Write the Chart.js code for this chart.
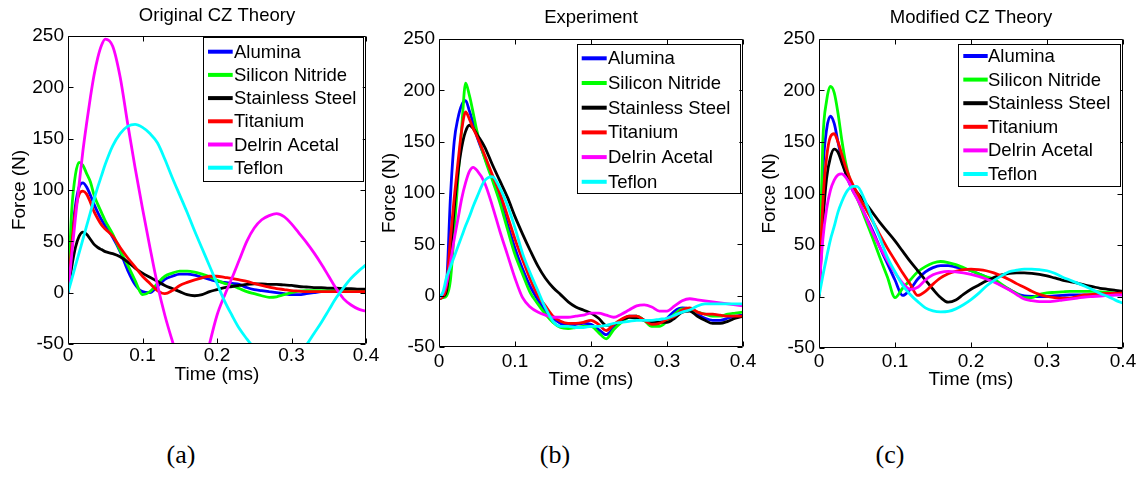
<!DOCTYPE html>
<html><head><meta charset="utf-8">
<script src="https://cdn.jsdelivr.net/npm/chart.js@4.4.1/dist/chart.umd.min.js"></script>
<style>
html,body{margin:0;padding:0;background:#fff;}
body{width:1140px;height:500px;position:relative;overflow:hidden;}
canvas{position:absolute;top:0;}
.cap{position:absolute;top:441px;font-family:'Liberation Serif','Times New Roman',serif;font-size:26px;line-height:28px;color:#000;transform:translateX(-50%);}
</style></head><body>
<canvas id="ca" width="400" height="400" style="left:0px;width:400px;height:400px"></canvas>
<canvas id="cb" width="400" height="400" style="left:370px;width:400px;height:400px"></canvas>
<canvas id="cc" width="390" height="400" style="left:750px;width:390px;height:400px"></canvas>
<div class="cap" style="left:181px">(a)</div>
<div class="cap" style="left:555px">(b)</div>
<div class="cap" style="left:890px">(c)</div>
<script>
// ---- data ----
const timeMs = [0,0.005,0.01,0.015,0.02,0.025,0.03,0.035,0.04,0.045,0.05,0.06,0.07,0.08,0.09,0.10,0.11,0.12,0.13,0.14,0.15,0.16,0.17,0.18,0.19,0.20,0.21,0.22,0.23,0.24,0.25,0.26,0.27,0.28,0.29,0.30,0.31,0.32,0.33,0.34,0.35,0.36,0.37,0.38,0.39,0.40];
const materials = ['Alumina','Silicon Nitride','Stainless Steel','Titanium','Delrin Acetal','Teflon'];
const panelTitles = ['Original CZ Theory','Experiment','Modified CZ Theory'];
const xTicks = [0,0.1,0.2,0.3,0.4];
const yTicks = [-50,0,50,100,150,200,250];

// (a) Original CZ theory
const origAlumina = [0,50,85,103,107,103,95,86,78,71,65, 54,40,22,8,1,0,6,13,16,18, 18,17,15,13,11,10,9,8,5,3, 2,1,0,-1,-2,-2,-1,0,1,1, 2,2,2,2,2];
const origSiliconNitride = [0,80,115,127,124,116,108,95,86,78,70, 57,41,27,12,-2,1,9,16,19,21, 21,20,18,15.5,12,9,7,4,1,-1, -3,-4.5,-4,-2,0,1.5,2,2,2,2, 2,2,2,2,2];
const origStainlessSteel = [0,25,44,55,59,57,52,47,44,42,40, 38,35,30,24,19,15,11,7,4,1, -2,-3,-2,1,3,5,6,7,8,8.5, 8.5,8,8,7.5,7,6,5.5,5,5,4.5, 4.5,4,4,3.5,3.5];
const origTitanium = [0,45,80,96,99,96,88,79,72,66,62, 55,44,34,25,16,9,2,-1,2,7, 10,12.5,14.5,16,16,15,14,12.5,11,9, 7,5.5,4,3,2,1.5,1,1,1,1, 1,1,1,1,1];
const origDelrinAcetal = [0,37,73,106,138,165,190,212,229,241,247, 240,210,165,122,82,44,8,-22,-47,-70, -87,-95,-82,-50,-22,-3,14,32,50,63, 71,75,77,74,67,58,49,39,28,16, 4,-6,-12,-16,-18];
const origTeflon = [0,13,26,39,52,65,78,91,103,114,125, 143,155,162,164,161,155,146,130,112,95, 78,60,43,26,9,-8,-22,-35,-45,-54, -62,-68,-71,-70,-66,-59,-51,-40,-29,-17, -5,5,14,21,27];

// (b) Experiment
const expAlumina = [-3,-1,12,95,150,173,186,190,180,168,155, 135,115,94,70,46,26,9,-4,-15,-22, -27,-29,-28,-27,-28,-33,-38,-31,-24,-20, -20,-24,-27,-26,-22,-15,-12,-13,-18,-22, -24,-24,-22,-20,-19];
const expSiliconNitride = [-3,-2,0,15,62,115,165,207,195,178,160, 134,113,91,65,40,21,3,-8,-18,-26, -31,-32,-31,-30,-30,-36,-42,-33,-26,-21, -20,-24,-30,-30,-25,-18,-13,-13,-16,-18, -20,-20,-18,-17,-16];
const expStainlessSteel = [-3,-1,5,40,85,120,145,160,166,163,157, 145,128,112,96,77,60,44,29,17,8, 1,-6,-11,-14,-17,-22,-29,-28,-24,-21, -22,-24,-26,-26,-26,-22,-16,-15,-20,-24, -27,-27,-25,-22,-20];
const expTitanium = [-3,-1,10,55,95,130,162,179,172,163,155, 137,118,100,78,55,35,16,0,-10,-20, -25,-27,-27,-26,-24,-28,-34,-28,-23,-20, -20,-24,-28,-27,-23,-20,-14,-12,-16,-18, -18,-19,-20,-20,-20];
const expDelrinAcetal = [-2,2,12,32,55,75,95,110,121,125,122, 110,88,63,40,17,-2,-11,-16,-19,-21, -21,-21,-20,-19,-17,-17,-19,-21,-18,-14, -10,-9,-11,-15,-15,-10,-5,-3,-4,-5, -6,-7,-8,-9,-10];
const expTeflon = [-2,3,18,28,38,48,58,68,77,87,96, 112,116,105,88,66,41,22,5,-12,-25, -30,-30,-31,-31,-30,-30,-29,-27,-26,-25, -24,-24,-24,-23,-22,-19,-16,-14,-10,-8, -8,-8,-8,-8,-8];

// (c) Modified CZ theory
const modAlumina = [0,120,162,175,168,150,133,120,110,102,96, 80,65,48,32,16,1,7,17,24,28, 30,30,28.5,27,25,22,19,15,11,7, 3,0.5,0,0,0,0.5,1,1.5,1.5,1.5, 1.5,1.5,1.5,1.5,1.5];
const modSiliconNitride = [0,150,190,204,198,178,152,130,115,104,96, 77,58,38,19,-1,8,16,24,29,32.5, 34,33,31,28,25,22,19,17,12,7, 3,-1,-1,2,3.5,4,4.5,5,5,5, 5,4.5,4,3.5,3];
const modStainlessSteel = [0,70,115,135,143,140,130,120,112,106,101, 92,82,72,63,54,44,34,25,16,7, -1,-5.5,-3.5,2,7,11,15,18.5,21,22.5, 23,23,22.5,21.5,20,18,16,14.5,13,11, 9.5,8,7,6,5];
const modTitanium = [0,90,135,155,158,150,138,126,116,108,101, 87,74,60,47,35,23,12,1,5,12, 18,22,24.5,26,26.5,26,25,23,20,16.5, 12.5,9,5,2,0,-1,-1.5,-1.5,0,1.5, 2,2.5,3,3,3.3];
const modDelrinAcetal = [5,55,85,103,113,118,119,116,110,102,95, 80,63,48,35,23,13,7,9,16,21, 23.5,24.3,24,23,21.5,19.5,17,14,10.5,6.5, 2,-2.5,-4,-5,-5,-4.5,-3.5,-2.5,-1.5,-0.5, 0,0.5,1,1.5,1.6];
const modTeflon = [0,20,38,55,68,82,92,100,105,107,107, 94,75,57,38,24,11,2,-5,-11,-14, -15,-14.5,-12,-8,-3,3,10,15.5,20,24, 25.5,26.5,26.5,26,25,22.5,19,16,13,10, 6.5,3,0,-3.5,-6.5];

const seriesColors = ['#0000ff','#00ff00','#000000','#ff0000','#ff00ff','#00ffff'];
const panelSeries = [
  [origAlumina, origSiliconNitride, origStainlessSteel, origTitanium, origDelrinAcetal, origTeflon],
  [expAlumina, expSiliconNitride, expStainlessSteel, expTitanium, expDelrinAcetal, expTeflon],
  [modAlumina, modSiliconNitride, modStainlessSteel, modTitanium, modDelrinAcetal, modTeflon]
];

// ---- drawing ----
const FONT = "'Liberation Sans', Arial, Helvetica, sans-serif";
Chart.defaults.font.family = FONT;
Chart.defaults.font.size = 19;
Chart.defaults.color = '#000';

const frameTicks = {
  id: 'frameTicks',
  afterDatasetsDraw(chart) {
    const {ctx, chartArea: a, scales: {x, y}} = chart;
    const L = Math.round(a.left) + 0.5, R = Math.round(a.right) - 0.5;
    const T = Math.round(a.top) + 0.5, B = Math.round(a.bottom) - 0.5;
    const tl = 5;
    ctx.save();
    ctx.strokeStyle = '#000'; ctx.lineWidth = 1;
    ctx.beginPath();
    ctx.rect(L, T, R - L, B - T);
    x.ticks.forEach(t => {
      const p = Math.round(x.getPixelForValue(t.value)) + 0.5;
      ctx.moveTo(p, B); ctx.lineTo(p, B - tl);
      ctx.moveTo(p, T); ctx.lineTo(p, T + tl);
    });
    y.ticks.forEach(t => {
      const p = Math.round(y.getPixelForValue(t.value)) + 0.5;
      ctx.moveTo(L, p); ctx.lineTo(L + tl, p);
      ctx.moveTo(R, p); ctx.lineTo(R - tl, p);
    });
    ctx.stroke();
    ctx.restore();
  }
};

const panelTitle = {
  id: 'panelTitle',
  afterDraw(chart, args, o) {
    const {ctx, chartArea: a} = chart;
    ctx.save();
    ctx.font = '18.5px ' + FONT;
    ctx.fillStyle = '#000';
    ctx.textAlign = 'center'; ctx.textBaseline = 'middle';
    ctx.fillText(o.text, (a.left + a.right) / 2, a.top - o.gap);
    ctx.restore();
  }
};

const boxLegend = {
  id: 'boxLegend',
  afterDraw(chart, args, o) {
    const {ctx, chartArea: a} = chart;
    const ds = chart.data.datasets;
    const right = a.right - o.gapRight, top = a.top + o.gapTop;
    const left = right - o.width;
    const h = o.firstRow + (ds.length - 1) * o.rowH + o.lastPad;
    ctx.save();
    ctx.fillStyle = '#fff';
    ctx.fillRect(left, top, o.width, h);
    ctx.strokeStyle = '#000'; ctx.lineWidth = 1;
    ctx.strokeRect(Math.round(left) + 0.5, Math.round(top) + 0.5, Math.round(o.width), Math.round(h));
    ctx.font = '18.5px ' + FONT;
    ctx.textBaseline = 'middle'; ctx.textAlign = 'left';
    ds.forEach((d, i) => {
      const cy = top + o.firstRow + i * o.rowH;
      ctx.strokeStyle = d.borderColor; ctx.lineWidth = 4;
      ctx.beginPath(); ctx.moveTo(left + o.lineStart, cy); ctx.lineTo(left + o.lineEnd, cy); ctx.stroke();
      ctx.fillStyle = '#000';
      ctx.fillText(d.label, left + o.textX, cy + 1);
    });
    ctx.restore();
  }
};

const geoms = [
  {id:'ca', padT:36, padR:34, yW:60, xH:56, xTickPad:0, xTitlePad:13.6, titleGap:19.7,
   legend:{gapRight:3.3, gapTop:1, width:159.7, firstRow:14.7, rowH:23.2, lastPad:13.3, lineStart:5, lineEnd:29.7, textX:31}},
  {id:'cb', padT:39, padR:27, yW:61, xH:53, xTickPad:3.3, xTitlePad:8.6, titleGap:21.5,
   legend:{gapRight:3.7, gapTop:5.3, width:162.6, firstRow:14, rowH:24.7, lastPad:11.6, lineStart:5, lineEnd:30, textX:31.3}},
  {id:'cc', padT:39, padR:17, yW:61, xH:52, xTickPad:2.3, xTitlePad:8.6, titleGap:21.5,
   legend:{gapRight:3, gapTop:5, width:161.7, firstRow:12, rowH:23.6, lastPad:12, lineStart:5, lineEnd:29.4, textX:29.7}}
];

geoms.forEach((g, pi) => {
  const datasets = panelSeries[pi].map((vals, si) => ({
    label: materials[si],
    data: timeMs.map((t, k) => ({x: t, y: vals[k]})),
    borderColor: seriesColors[si],
    backgroundColor: seriesColors[si],
    borderWidth: 2.8,
    pointRadius: 0,
    cubicInterpolationMode: 'monotone',
    fill: false,
    clip: 0,
    order: materials.length - si
  }));
  new Chart(document.getElementById(g.id), {
    type: 'line',
    data: {datasets},
    plugins: [frameTicks, panelTitle, boxLegend],
    options: {
      responsive: false, animation: false, devicePixelRatio: 1,
      layout: {padding: {left: 8, right: g.padR, top: g.padT, bottom: 0}},
      plugins: {
        legend: {display: false}, tooltip: {enabled: false}, title: {display: false},
        panelTitle: {text: panelTitles[pi], gap: g.titleGap},
        boxLegend: g.legend
      },
      scales: {
        x: {
          type: 'linear', min: xTicks[0], max: xTicks[xTicks.length - 1],
          afterFit(s) { s.height = g.xH; },
          afterBuildTicks(s) { s.ticks = xTicks.map(v => ({value: v})); },
          ticks: {color: '#000', font: {size: 19}, padding: g.xTickPad, maxRotation: 0, autoSkip: false,
                  callback: v => String(Number(v.toFixed(1)))},
          grid: {display: false, drawTicks: false}, border: {display: false},
          title: {display: true, text: 'Time (ms)', color: '#000', font: {size: 19}, padding: {top: 0, bottom: g.xTitlePad}}
        },
        y: {
          type: 'linear', min: yTicks[0], max: yTicks[yTicks.length - 1],
          afterFit(s) { s.width = g.yW; },
          afterBuildTicks(s) { s.ticks = yTicks.map(v => ({value: v})); },
          ticks: {color: '#000', font: {size: 19}, padding: 4, autoSkip: false, callback: v => String(v)},
          grid: {display: false, drawTicks: false}, border: {display: false},
          title: {display: true, text: 'Force (N)', color: '#000', font: {size: 19}, padding: {top: 0, bottom: 0}}
        }
      }
    }
  });
});
</script>
</body></html>
